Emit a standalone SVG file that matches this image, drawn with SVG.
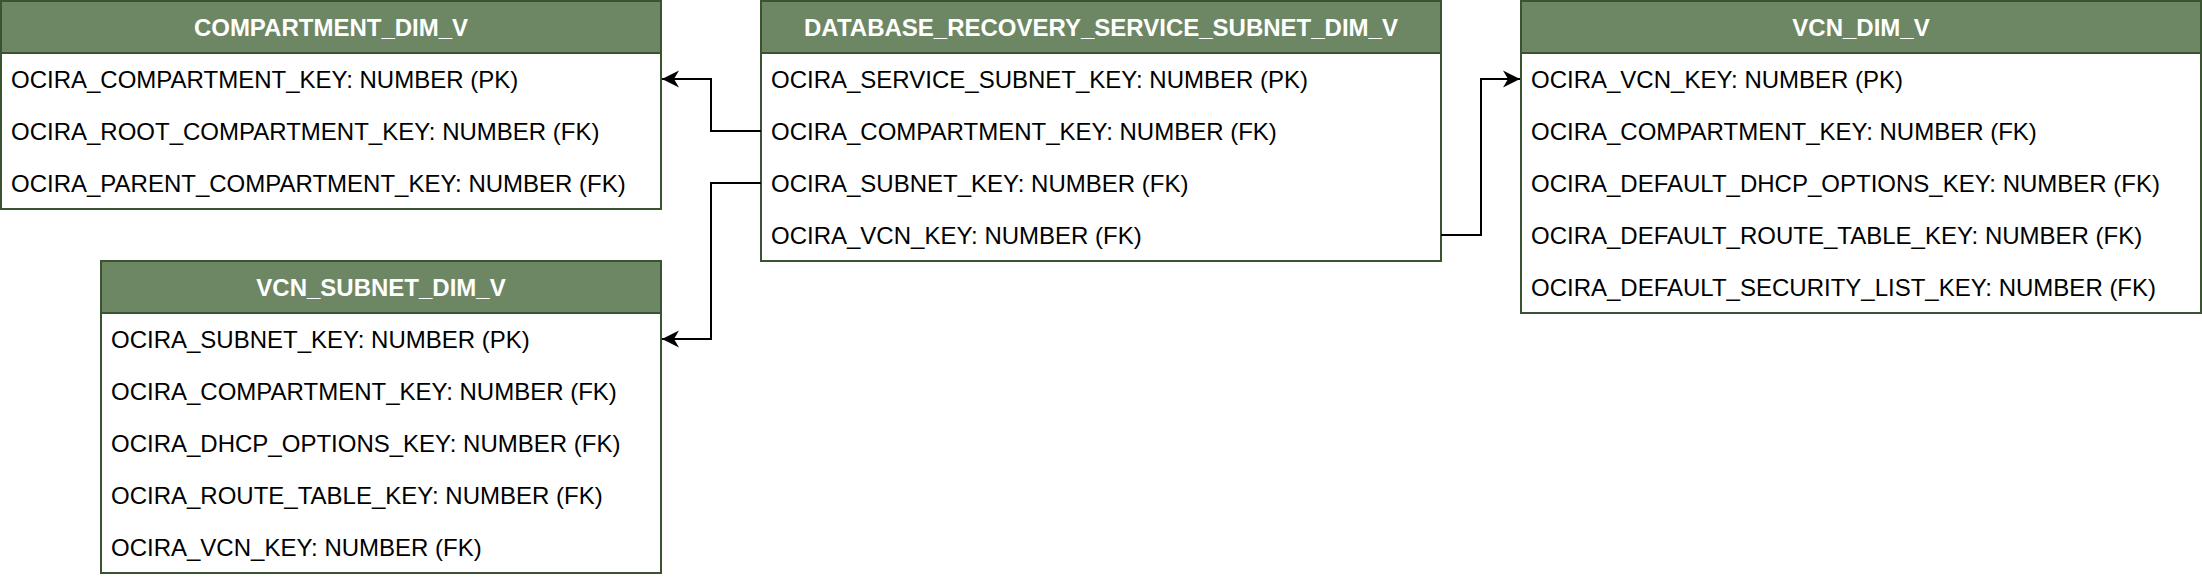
<svg xmlns="http://www.w3.org/2000/svg" width="2202" height="580" viewBox="0 0 2202 580">
  <style>
    .box { fill: #ffffff; stroke: #3A5431; stroke-width: 2; }
    .hdr { fill: #6D8764; stroke: #3A5431; stroke-width: 2; }
    .title { font-family: "Liberation Sans", Arial, Helvetica, sans-serif; font-size: 24px; font-weight: bold; fill: #ffffff; text-anchor: middle; }
    .row { font-family: "Liberation Sans", Arial, Helvetica, sans-serif; font-size: 24px; fill: #000000; }
    .conn { fill: none; stroke: #000000; stroke-width: 2; }
  </style>
  <defs>
    <marker id="arrow" markerUnits="userSpaceOnUse" markerWidth="18" markerHeight="18" viewBox="0 0 18 18" refX="17" refY="9" orient="auto">
      <path d="M17,9 L0,0.5 L5,9 L0,17.5 Z" fill="#000000"/>
    </marker>
  </defs>

  <rect x="0" y="0" width="2202" height="580" fill="#ffffff"/>

  <g id="COMPARTMENT_DIM_V">
    <rect class="box" x="1" y="1" width="660" height="208"/>
    <rect class="hdr" x="1" y="1" width="660" height="52"/>
    <text class="title" x="331" y="36">COMPARTMENT_DIM_V</text>
    <text class="row" x="11" y="87.5">OCIRA_COMPARTMENT_KEY: NUMBER (PK)</text>
    <text class="row" x="11" y="139.5">OCIRA_ROOT_COMPARTMENT_KEY: NUMBER (FK)</text>
    <text class="row" x="11" y="191.5">OCIRA_PARENT_COMPARTMENT_KEY: NUMBER (FK)</text>
  </g>

  <g id="DATABASE_RECOVERY_SERVICE_SUBNET_DIM_V">
    <rect class="box" x="761" y="1" width="680" height="260"/>
    <rect class="hdr" x="761" y="1" width="680" height="52"/>
    <text class="title" x="1101" y="36">DATABASE_RECOVERY_SERVICE_SUBNET_DIM_V</text>
    <text class="row" x="771" y="87.5">OCIRA_SERVICE_SUBNET_KEY: NUMBER (PK)</text>
    <text class="row" x="771" y="139.5">OCIRA_COMPARTMENT_KEY: NUMBER (FK)</text>
    <text class="row" x="771" y="191.5">OCIRA_SUBNET_KEY: NUMBER (FK)</text>
    <text class="row" x="771" y="243.5">OCIRA_VCN_KEY: NUMBER (FK)</text>
  </g>

  <g id="VCN_DIM_V">
    <rect class="box" x="1521" y="1" width="680" height="312"/>
    <rect class="hdr" x="1521" y="1" width="680" height="52"/>
    <text class="title" x="1861" y="36">VCN_DIM_V</text>
    <text class="row" x="1531" y="87.5">OCIRA_VCN_KEY: NUMBER (PK)</text>
    <text class="row" x="1531" y="139.5">OCIRA_COMPARTMENT_KEY: NUMBER (FK)</text>
    <text class="row" x="1531" y="191.5">OCIRA_DEFAULT_DHCP_OPTIONS_KEY: NUMBER (FK)</text>
    <text class="row" x="1531" y="243.5">OCIRA_DEFAULT_ROUTE_TABLE_KEY: NUMBER (FK)</text>
    <text class="row" x="1531" y="295.5">OCIRA_DEFAULT_SECURITY_LIST_KEY: NUMBER (FK)</text>
  </g>

  <g id="VCN_SUBNET_DIM_V">
    <rect class="box" x="101" y="261" width="560" height="312"/>
    <rect class="hdr" x="101" y="261" width="560" height="52"/>
    <text class="title" x="381" y="296">VCN_SUBNET_DIM_V</text>
    <text class="row" x="111" y="347.5">OCIRA_SUBNET_KEY: NUMBER (PK)</text>
    <text class="row" x="111" y="399.5">OCIRA_COMPARTMENT_KEY: NUMBER (FK)</text>
    <text class="row" x="111" y="451.5">OCIRA_DHCP_OPTIONS_KEY: NUMBER (FK)</text>
    <text class="row" x="111" y="503.5">OCIRA_ROUTE_TABLE_KEY: NUMBER (FK)</text>
    <text class="row" x="111" y="555.5">OCIRA_VCN_KEY: NUMBER (FK)</text>
  </g>

  <g id="connectors">
    <path class="conn" d="M761,131 H711 V79 H662" marker-end="url(#arrow)"/>
    <path class="conn" d="M761,183 H711 V339 H662" marker-end="url(#arrow)"/>
    <path class="conn" d="M1441,235 H1481 V79 H1520" marker-end="url(#arrow)"/>
  </g>
</svg>
